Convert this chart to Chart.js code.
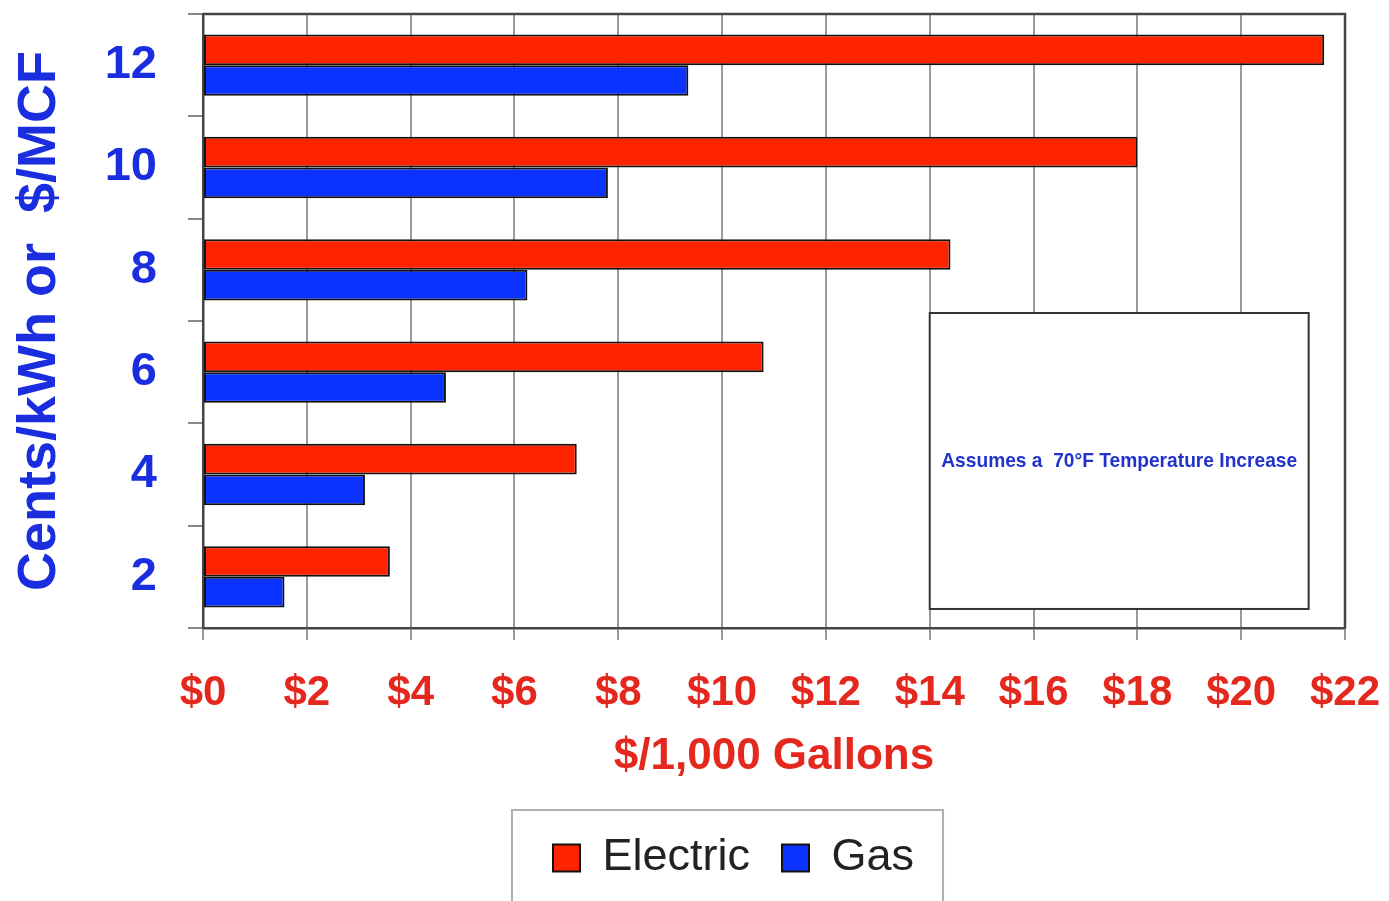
<!DOCTYPE html>
<html>
<head>
<meta charset="utf-8">
<script src="https://cdn.jsdelivr.net/npm/chart.js@4/dist/chart.umd.min.js"></script>
<style>
  html, body { margin: 0; padding: 0; background: #fff; }
  #wrap { width: 1389px; height: 901px; position: relative; }
</style>
</head>
<body>
<div id="wrap"><canvas id="costChart"></canvas></div>
<script>
// rate categories, top to bottom (cents/kWh or $/MCF)
const rates = ['12', '10', '8', '6', '4', '2'];
// $ per 1,000 gallons
const electric = [21.6, 18.0, 14.4, 10.8, 7.2, 3.6];
const gas = [9.35, 7.8, 6.25, 4.68, 3.12, 1.57];
const xTicks = [0, 2, 4, 6, 8, 10, 12, 14, 16, 18, 20, 22];
const note = 'Assumes a  70°F Temperature Increase';

const FONT = "'Liberation Sans', Arial, sans-serif";
const BLUE_TXT = '#1a2ee0';
const RED_TXT = '#e5281e';

// frame, note box and legend border
const extras = {
    id: 'extras',
    afterLayout(chart) {
        // legend sits right of centre in the original
        chart.legend.left += 61;
        chart.legend.right += 61;
    },
    afterDatasetsDraw(chart) {
        const { ctx, chartArea: ca, scales } = chart;
        ctx.save();
        ctx.strokeStyle = '#444';
        ctx.lineWidth = 2.5;
        ctx.beginPath();
        ctx.moveTo(ca.left, ca.top);
        ctx.lineTo(ca.right, ca.top);
        ctx.lineTo(ca.right, ca.bottom);
        ctx.stroke();

        // note box
        const x0 = scales.x.getPixelForValue(14);
        const x1 = scales.x.getPixelForValue(21.3);
        const h = ca.bottom - ca.top;
        const y0 = ca.top + h * 0.487;
        const y1 = ca.top + h * 0.969;
        ctx.fillStyle = '#fff';
        ctx.fillRect(x0, y0, x1 - x0, y1 - y0);
        ctx.strokeStyle = '#333';
        ctx.lineWidth = 2;
        ctx.strokeRect(x0, y0, x1 - x0, y1 - y0);
        ctx.fillStyle = '#2233cc';
        ctx.font = 'bold 21px ' + FONT;
        ctx.textAlign = 'center';
        ctx.textBaseline = 'middle';
        ctx.fillText(note, (x0 + x1) / 2, (y0 + y1) / 2, x1 - x0 - 23);
        ctx.restore();
    },
    afterDraw(chart) {
        const boxes = chart.legend.legendHitBoxes;
        if (!boxes || !boxes.length) return;
        const ctx = chart.ctx;
        const first = boxes[0], last = boxes[boxes.length - 1];
        ctx.save();
        ctx.strokeStyle = '#b0b0b0';
        ctx.lineWidth = 2;
        ctx.strokeRect(first.left - 41, 810, (last.left + last.width + 29) - (first.left - 41), 120);
        ctx.restore();
    }
};

new Chart(document.getElementById('costChart'), {
    type: 'bar',
    data: {
        labels: rates,
        datasets: [
            { label: 'Electric', data: electric, backgroundColor: '#ff2400', borderColor: '#111', borderWidth: 2, borderSkipped: false },
            { label: 'Gas', data: gas, backgroundColor: '#0a33ff', borderColor: '#111', borderWidth: 2, borderSkipped: false }
        ]
    },
    options: {
        indexAxis: 'y',
        responsive: true,
        maintainAspectRatio: false,
        animation: false,
        categoryPercentage: 0.6,
        barPercentage: 1.0,
        layout: { padding: { top: 14, right: 44, left: 0, bottom: 10.5 } },
        scales: {
            x: {
                min: 0,
                max: 22,
                afterBuildTicks: (s) => { s.ticks = xTicks.map(v => ({ value: v })); },
                afterFit: (s) => { s.height = 175.5; s.paddingLeft = 0; s.paddingRight = 0; },
                grid: { color: '#9a9a9a', lineWidth: 2, tickLength: 12, drawTicks: true },
                border: { color: '#444', width: 2.5 },
                ticks: {
                    padding: 28,
                    color: RED_TXT,
                    font: { family: FONT, size: 42, weight: 'bold' },
                    maxRotation: 0,
                    callback: (v) => '$' + v
                },
                title: {
                    display: true,
                    text: '$/1,000 Gallons',
                    color: RED_TXT,
                    font: { family: FONT, size: 44, weight: 'bold' },
                    padding: { top: 0, bottom: 20 }
                }
            },
            y: {
                afterFit: (s) => { s.width = 203; s.paddingTop = 0; s.paddingBottom = 0; },
                grid: { offset: true, drawOnChartArea: false, color: '#888', lineWidth: 2, tickLength: 15 },
                border: { color: '#444', width: 2.5 },
                ticks: {
                    padding: 31,
                    color: BLUE_TXT,
                    font: { family: FONT, size: 47, weight: 'bold' }
                },
                title: {
                    display: true,
                    text: 'Cents/kWh or  $/MCF',
                    color: BLUE_TXT,
                    font: { family: FONT, size: 54, weight: 'bold' },
                    padding: { top: 8, bottom: 0 }
                }
            }
        },
        plugins: {
            legend: {
                position: 'bottom',
                labels: {
                    color: '#222',
                    font: { family: FONT, size: 45 },
                    boxWidth: 27,
                    boxHeight: 27,
                    padding: 32
                }
            },
            tooltip: { enabled: false }
        }
    },
    plugins: [extras]
});
</script>
</body>
</html>
